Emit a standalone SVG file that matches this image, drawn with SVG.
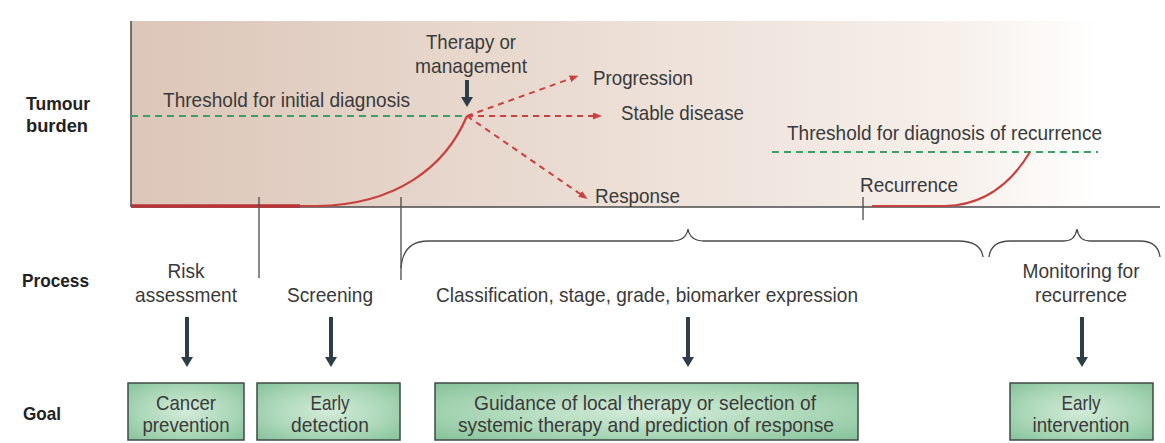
<svg xmlns="http://www.w3.org/2000/svg" width="1165" height="443" viewBox="0 0 1165 443">
<defs>
<linearGradient id="bg" x1="131" y1="0" x2="1150" y2="0" gradientUnits="userSpaceOnUse">
<stop offset="0" stop-color="#dcc6b8"/>
<stop offset="0.45" stop-color="#ebddd4"/>
<stop offset="0.8" stop-color="#f6efea"/>
<stop offset="0.95" stop-color="#ffffff"/>
</linearGradient>
<radialGradient id="boxg" cx="0.5" cy="0.5" r="0.7">
<stop offset="0" stop-color="#d3ebd9"/>
<stop offset="0.6" stop-color="#a9d6b6"/>
<stop offset="1" stop-color="#86c29a"/>
</radialGradient>
<marker id="ahDark" markerUnits="userSpaceOnUse" viewBox="0 0 10 12" markerWidth="10" markerHeight="12" refX="1" refY="6" orient="auto">
<path d="M0,0 L10,6 L0,12 Z" fill="#2e3d47"/>
</marker>
<marker id="ahRed" markerUnits="userSpaceOnUse" viewBox="0 0 9 7" markerWidth="9" markerHeight="7" refX="1" refY="3.5" orient="auto">
<path d="M0,0 L9,3.5 L0,7 Z" fill="#c9403f"/>
</marker>
</defs>
<style>
text{font-family:"Liberation Sans",Arial,sans-serif;fill:#3a3a3a;font-size:21px}
.lbl{font-weight:bold;font-size:19px;fill:#222}
.c{text-anchor:middle}
.box{fill:url(#boxg);stroke:#3f4a44;stroke-width:1.5}
.axis{stroke:#4a4a4a;stroke-width:1.5;fill:none}
.thin{stroke:#4a4a4a;stroke-width:1.3;fill:none}
.red{stroke:#c9403f;stroke-width:2.2;fill:none}
.green{stroke:#3aa067;stroke-width:1.8;stroke-dasharray:7 5;fill:none}
.rdash{stroke:#c9403f;stroke-width:2;stroke-dasharray:6 5;fill:none}
.dark{stroke:#2e3d47;stroke-width:4;fill:none}
</style>
<rect x="0" y="0" width="1165" height="443" fill="#ffffff"/>

<g id="chart">
<rect x="131" y="21" width="1019" height="186" fill="url(#bg)"/>
<line class="axis" x1="131" y1="21" x2="131" y2="207"/>
<line class="axis" x1="131" y1="207" x2="1160" y2="207"/>
<line class="green" x1="131" y1="116" x2="467" y2="116"/>
<line class="green" x1="772" y1="152" x2="1098" y2="152"/>
<path class="red" d="M131,206 H317 C395,205 445,168 467,116"/>
<path d="M131,206 H300" stroke="#b83336" stroke-width="3.5" fill="none"/>
<path class="red" d="M872,206 H945 C985,205 1012,182 1030,152"/>
<line class="thin" x1="863" y1="197" x2="863" y2="220"/>
</g>

<g id="labels-left">
<text class="lbl" x="26" y="110" textLength="64" lengthAdjust="spacingAndGlyphs">Tumour</text>
<text class="lbl" x="26" y="132" textLength="62" lengthAdjust="spacingAndGlyphs">burden</text>
<text class="lbl" x="22" y="287" textLength="67" lengthAdjust="spacingAndGlyphs">Process</text>
<text class="lbl" x="23" y="420" textLength="38" lengthAdjust="spacingAndGlyphs">Goal</text>
</g>

<g id="threshold-initial"><text x="163" y="107" textLength="247" lengthAdjust="spacingAndGlyphs">Threshold for initial diagnosis</text></g>
<g id="therapy"><text class="c" x="471" y="49" textLength="90" lengthAdjust="spacingAndGlyphs">Therapy or</text><text class="c" x="471" y="73" textLength="112" lengthAdjust="spacingAndGlyphs">management</text></g>
<g id="progression"><text x="593" y="85" textLength="100" lengthAdjust="spacingAndGlyphs">Progression</text></g>
<g id="stable"><text x="621" y="120" textLength="123" lengthAdjust="spacingAndGlyphs">Stable disease</text></g>
<g id="response"><text x="595" y="203" textLength="85" lengthAdjust="spacingAndGlyphs">Response</text></g>
<g id="threshold-recurrence"><text x="787" y="140" textLength="315" lengthAdjust="spacingAndGlyphs">Threshold for diagnosis of recurrence</text></g>
<g id="recurrence"><text x="860" y="192" textLength="98" lengthAdjust="spacingAndGlyphs">Recurrence</text></g>

<g id="process-risk"><text class="c" x="186" y="278" textLength="37" lengthAdjust="spacingAndGlyphs">Risk</text><text class="c" x="186" y="302" textLength="102" lengthAdjust="spacingAndGlyphs">assessment</text></g>
<g id="process-screening"><text class="c" x="330" y="302" textLength="86" lengthAdjust="spacingAndGlyphs">Screening</text></g>
<g id="process-classification"><text class="c" x="647" y="302" textLength="422" lengthAdjust="spacingAndGlyphs">Classification, stage, grade, biomarker expression</text></g>
<g id="process-monitoring"><text class="c" x="1081" y="278" textLength="117" lengthAdjust="spacingAndGlyphs">Monitoring for</text><text class="c" x="1081" y="302" textLength="92" lengthAdjust="spacingAndGlyphs">recurrence</text></g>

<g id="goal-prevention"><rect class="box" x="128" y="383" width="116" height="57"/><text class="c" x="186" y="410" textLength="60" lengthAdjust="spacingAndGlyphs">Cancer</text><text class="c" x="186" y="432" textLength="87" lengthAdjust="spacingAndGlyphs">prevention</text></g>
<g id="goal-detection"><rect class="box" x="257" y="383" width="143" height="57"/><text class="c" x="330" y="410" textLength="39" lengthAdjust="spacingAndGlyphs">Early</text><text class="c" x="330" y="432" textLength="78" lengthAdjust="spacingAndGlyphs">detection</text></g>
<g id="goal-guidance"><rect class="box" x="435" y="383" width="423" height="57"/><text class="c" x="645" y="410" textLength="342" lengthAdjust="spacingAndGlyphs">Guidance of local therapy or selection of</text><text class="c" x="646" y="432" textLength="376" lengthAdjust="spacingAndGlyphs">systemic therapy and prediction of response</text></g>
<g id="goal-intervention"><rect class="box" x="1010" y="383" width="143" height="57"/><text class="c" x="1081" y="410" textLength="39" lengthAdjust="spacingAndGlyphs">Early</text><text class="c" x="1081" y="432" textLength="97" lengthAdjust="spacingAndGlyphs">intervention</text></g>

<g id="connectors">
<line class="dark" x1="467" y1="80" x2="467" y2="98" stroke-width="3" marker-end="url(#ahDark)"/>
<line class="rdash" x1="467" y1="116" x2="571" y2="78.5" marker-end="url(#ahRed)"/>
<line class="rdash" x1="467" y1="116" x2="594" y2="116" stroke-width="3" marker-end="url(#ahRed)"/>
<line class="rdash" x1="467" y1="116" x2="581" y2="194.5" marker-end="url(#ahRed)"/>
<line class="thin" x1="259" y1="197" x2="259" y2="278"/>
<line class="thin" x1="401" y1="197" x2="401" y2="280"/>
<path class="thin" d="M401,268 Q403,241 428,241 H672 Q686,241 688,229 Q690,241 704,241 H958 Q981,241 983,257"/>
<path class="thin" d="M989,257 Q991,241 1010,241 H1064 Q1075,241 1077,229 Q1079,241 1090,241 H1140 Q1158,241 1160,257"/>
<line class="dark" x1="187" y1="317" x2="187" y2="358" marker-end="url(#ahDark)"/>
<line class="dark" x1="331" y1="317" x2="331" y2="358" marker-end="url(#ahDark)"/>
<line class="dark" x1="688" y1="317" x2="688" y2="358" marker-end="url(#ahDark)"/>
<line class="dark" x1="1082" y1="317" x2="1082" y2="358" marker-end="url(#ahDark)"/>
</g>
</svg>
